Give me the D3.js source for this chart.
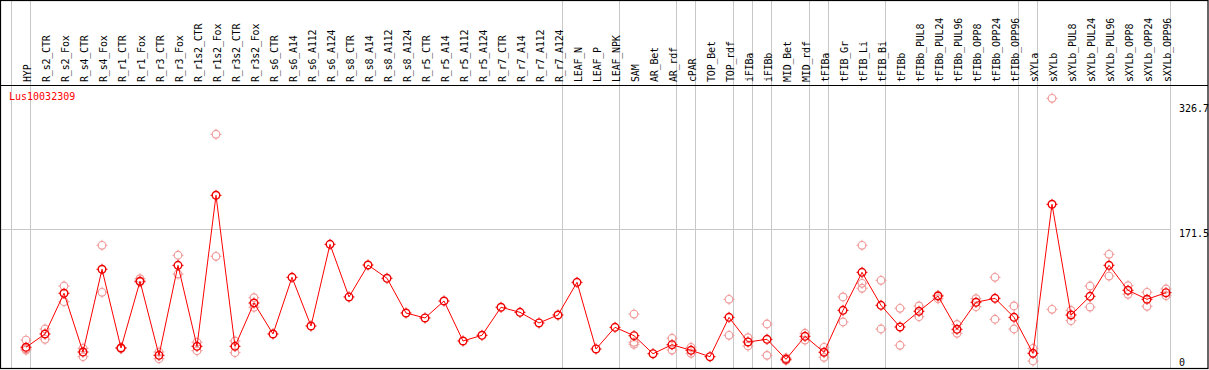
<!DOCTYPE html>
<html>
<head>
<meta charset="utf-8">
<script src="https://cdn.jsdelivr.net/npm/d3@7"></script>
<style>
  body { margin: 0; background: #fff; }
  svg { display: block; }
  text { font-family: "DejaVu Sans Mono", monospace; font-size: 10px; }
</style>
</head>
<body>
<svg id="chart" width="1209" height="370"></svg>
<script>
const geneName = "Lus10032309";

const samples = ["HYP", "R_s2_CTR", "R_s2_Fox", "R_s4_CTR", "R_s4_Fox", "R_r1_CTR", "R_r1_Fox",
    "R_r3_CTR", "R_r3_Fox", "R_r1s2_CTR", "R_r1s2_Fox", "R_r3s2_CTR", "R_r3s2_Fox", "R_s6_CTR",
    "R_s6_A14", "R_s6_A112", "R_s6_A124", "R_s8_CTR", "R_s8_A14", "R_s8_A112", "R_s8_A124",
    "R_r5_CTR", "R_r5_A14", "R_r5_A112", "R_r5_A124", "R_r7_CTR", "R_r7_A14", "R_r7_A112",
    "R_r7_A124", "LEAF_N", "LEAF_P", "LEAF_NPK", "SAM", "AR_Bet", "AR_rdf", "cPAR", "TOP_Bet",
    "TOP_rdf", "iFIBa", "iFIBb", "MID_Bet", "MID_rdf", "tFIBa", "tFIB_Gr", "tFIB_Li", "tFIB_Bi",
    "tFIBb", "tFIBb_PUL8", "tFIBb_PUL24", "tFIBb_PUL96", "tFIBb_OPP8", "tFIBb_OPP24", "tFIBb_OPP96",
    "sXYLa", "sXYLb", "sXYLb_PUL8", "sXYLb_PUL24", "sXYLb_PUL96", "sXYLb_OPP8", "sXYLb_OPP24",
    "sXYLb_OPP96"];

// mean expression per sample
const means = [24.5, 41.0, 91.6, 18.6, 121.4, 23.6, 106.5, 14.5, 126.3, 25.7,
    213.3, 25.7, 79.5, 41.0, 111.4, 50.9, 152.4, 87.0, 126.7, 110.2,
    67.1, 60.9, 82.0, 32.3, 39.4, 74.2, 67.9, 54.7, 64.6, 105.2,
    22.4, 49.3, 38.9, 16.5, 27.7, 20.7, 12.8, 61.7, 31.1, 34.4,
    9.6, 38.1, 18.3, 70.4, 117.6, 76.6, 49.7, 69.2, 88.2, 46.8,
    80.4, 85.3, 61.7, 17.0, 202.1, 64.6, 87.8, 126.3, 95.3, 84.1,
    92.3];

// replicate values per sample
const replicates = [[33.5, 22.4, 21.1], [47.2, 34.4], [100.6, 81.1], [23.2, 12.8], [151.2, 92.8],
    [24.2, 22.7], [109.7, 105.6], [18.6, 10.3], [138.8, 115.5], [30.7, 20.2],
    [289.1, 137.5], [32.3, 17.8], [86.1, 74.2], [], [], [], [], [], [], [],
    [], [], [], [], [], [], [], [], [], [],
    [], [], [65.8, 30.7, 28.2], [], [35.7, 21.1], [24.5, 17.0], [], [84.1, 39.4], [36.4, 26.1], [53.4, 14.5],
    [11.2, 8.3], [41.9, 33.5], [24.5, 12.0], [87.0, 55.9], [151.2, 104.0, 97.8], [107.7, 47.2], [72.9, 27.0], [75.8, 62.5], [89.1, 84.8], [53.0, 41.9],
    [84.8, 74.9], [111.4, 59.3], [75.8, 47.2], [23.2, 7.5], [333.8, 71.7], [70.4, 57.5], [100.6, 74.5], [140.0, 113.0], [101.0, 90.3], [92.8, 75.4],
    [96.9, 88.6]];

// group separators: drawn after these sample indices (-1 = before the first)
const separatorsAfter = [-1, 0, 28, 31, 34, 35, 37, 38, 39, 41, 42, 45, 52, 53, 60];

const yTicks = [0, 171.5, 326.7];
const gridValues = [171.5];

const headerBottom = 85, plotBottom = 368, right = 1208;

const svg = d3.select("#chart");

const x = d3.scaleLinear().domain([0, samples.length - 1]).range([26, 26 + 19 * (samples.length - 1)]);
const y = d3.scaleLinear().domain([0, 326.7]).range([367, 104]);

const lastSep = x(d3.max(separatorsAfter)) + 4;

// grid line(s)
svg.selectAll(".grid").data(gridValues).join("line")
    .attr("x1", 1).attr("x2", lastSep)
    .attr("y1", d => Math.round(y(d)) + 0.5).attr("y2", d => Math.round(y(d)) + 0.5)
    .attr("stroke", "#c8c8c8").attr("stroke-width", 1);

// group separators
svg.selectAll(".sep").data(separatorsAfter).join("line")
    .attr("x1", d => Math.round(x(d) + 4) + 0.5).attr("x2", d => Math.round(x(d) + 4) + 0.5)
    .attr("y1", 0).attr("y2", plotBottom)
    .attr("stroke", "#c8c8c8").attr("stroke-width", 1);

// frame + header line
svg.append("rect")
    .attr("x", 0.5).attr("y", 0.5).attr("width", right - 0.5).attr("height", plotBottom)
    .attr("fill", "none").attr("stroke", "#000").attr("stroke-width", 1.2);
svg.append("line")
    .attr("x1", 0).attr("x2", right).attr("y1", headerBottom + 0.5).attr("y2", headerBottom + 0.5)
    .attr("stroke", "#000").attr("stroke-width", 1.2);

// sample labels (rotated)
svg.selectAll(".lbl").data(samples).join("text")
    .attr("transform", (d, i) => `translate(${x(i) + 4.5},82) rotate(-90)`)
    .attr("text-anchor", "start")
    .attr("letter-spacing", "-0.2")
    .attr("fill", "#000")
    .text(d => d);

// gene name
svg.append("text").attr("x", 9).attr("y", 100).attr("fill", "#ff0000").text(geneName);

// y labels on right
svg.selectAll(".ytick").data(yTicks).join("text")
    .attr("x", 1179)
    .attr("y", d => Math.min(y(d), 358) + 8)
    .attr("fill", "#000")
    .text(d => d === 0 ? "0" : d.toFixed(1));

function glyph(g, cx, cy, color, sw) {
    g.append("circle").attr("cx", cx).attr("cy", cy).attr("r", 3.8)
        .attr("fill", "none").attr("stroke", color).attr("stroke-width", sw);
    const t = [[0, -3.8, 0, -5.5], [0, 3.8, 0, 5.5], [-3.8, 0, -5.5, 0], [3.8, 0, 5.5, 0]];
    t.forEach(s => g.append("line")
        .attr("x1", cx + s[0]).attr("y1", cy + s[1]).attr("x2", cx + s[2]).attr("y2", cy + s[3])
        .attr("stroke", color).attr("stroke-width", 1));
}

// replicates
const repG = svg.append("g");
replicates.forEach((reps, i) => {
    reps.forEach(v => glyph(repG, x(i), y(v), "#f09a9a", 1.2));
});

// mean line
svg.append("path")
    .datum(means)
    .attr("fill", "none")
    .attr("stroke", "#ff0000")
    .attr("stroke-width", 1)
    .attr("d", d3.line().x((d, i) => x(i)).y(d => y(d)));

// mean points
const meanG = svg.append("g");
means.forEach((v, i) => glyph(meanG, x(i), y(v), "#ee0000", 1.4));
</script>
</body>
</html>
